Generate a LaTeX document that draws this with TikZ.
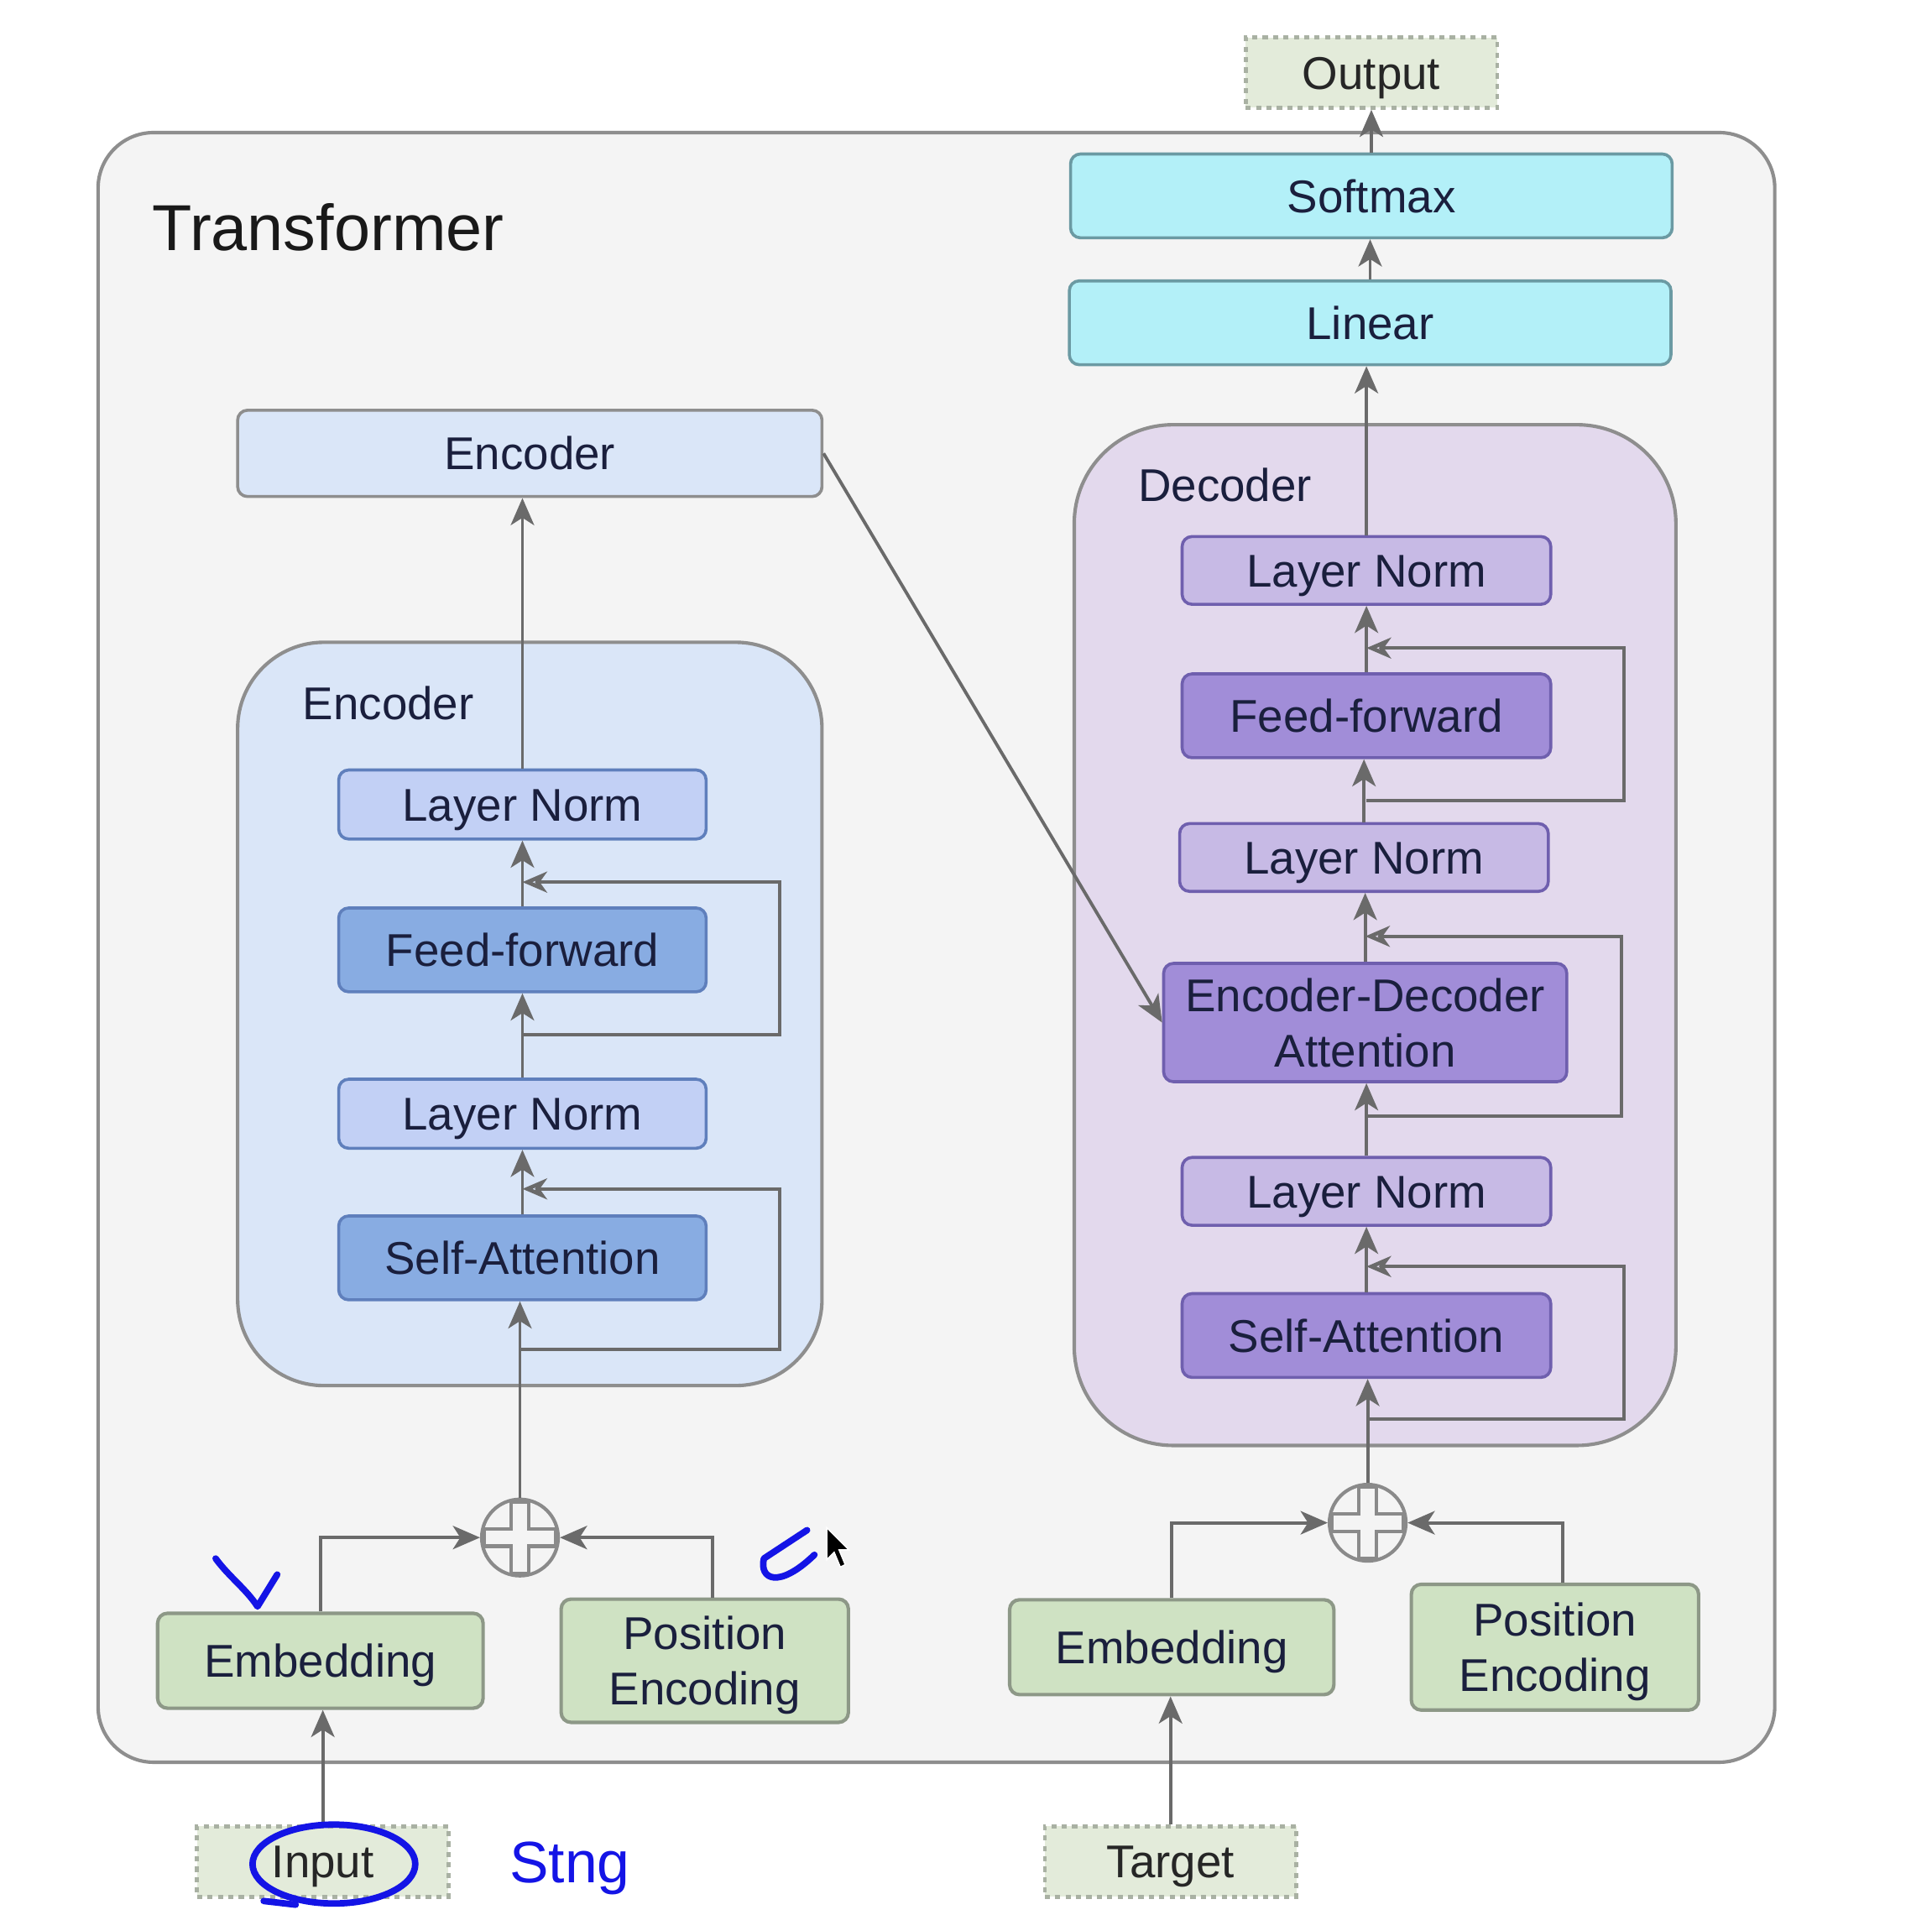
\documentclass[tikz,border=0pt]{standalone}
\usepackage{fontspec}
\setmainfont{Liberation Sans}
\usetikzlibrary{arrows.meta,calc}

\definecolor{frameF}{HTML}{F4F4F4}
\definecolor{frameE}{HTML}{8E8E8E}
\definecolor{encBoxF}{HTML}{DAE6F8}
\definecolor{encLight}{HTML}{C2D0F5}
\definecolor{encDark}{HTML}{88ACE2}
\definecolor{encEdge}{HTML}{5F7FBC}
\definecolor{decBoxF}{HTML}{E3D9ED}
\definecolor{decLight}{HTML}{C7BAE5}
\definecolor{decDark}{HTML}{A18DD8}
\definecolor{decEdge}{HTML}{6F5FAE}
\definecolor{grnF}{HTML}{CFE2C3}
\definecolor{grnE}{HTML}{8D9887}
\definecolor{cyanF}{HTML}{B3F0F8}
\definecolor{cyanE}{HTML}{6B9AA3}
\definecolor{ioF}{HTML}{E3EBDA}
\definecolor{ioE}{HTML}{A9B1A3}
\definecolor{lineC}{HTML}{6A6A6A}
\definecolor{txt}{HTML}{1A1F3D}
\definecolor{plusC}{HTML}{8A8A8A}
\definecolor{inkblue}{HTML}{1414E6}

\newcommand\lblfont{\fontsize{10.6}{12.8}\selectfont}
% outlined plus sign inside an adder circle
\newcommand\drawcrosshere{%
  \draw[plusC, line width=0.8pt] (-7,-29) -- (7,-29) -- (7,-7) -- (29,-7) -- (29,7) -- (7,7)
    -- (7,29) -- (-7,29) -- (-7,7) -- (-29,7) -- (-29,-7) -- (-7,-7) -- cycle;}

\begin{document}
\begin{tikzpicture}[x=0.01cm, y=-0.01cm,
  blk/.style={rounded corners=0.08cm, line width=0.7pt, inner sep=0pt, align=center,
    font=\lblfont, text=txt},
  oneline/.style={text height=7.6pt, text depth=0pt},
  twoline/.style={text depth=0pt},
  encLN/.style={blk, oneline, fill=encLight, draw=encEdge, minimum width=2.98cm, minimum height=0.56cm},
  encOp/.style={blk, oneline, fill=encDark, draw=encEdge, minimum width=2.98cm, minimum height=0.68cm},
  decLN/.style={blk, oneline, fill=decLight, draw=decEdge, minimum width=2.99cm, minimum height=0.55cm},
  decOp/.style={blk, fill=decDark, draw=decEdge, minimum width=2.99cm, minimum height=0.68cm},
  embed/.style={blk, fill=grnF, draw=grnE, line width=0.8pt},
  headbox/.style={blk, oneline, fill=cyanF, draw=cyanE, minimum width=4.88cm, minimum height=0.68cm},
  iobox/.style={inner sep=0pt, oneline, fill=ioF, draw=ioE, dash pattern=on 1.2pt off 1.2pt,
    line width=0.9pt, minimum width=2.04cm, minimum height=0.57cm, font=\lblfont, text=black!85},
  container/.style={line width=0.8pt, draw=frameE, inner sep=0pt},
  adder/.style={circle, draw=plusC, line width=0.8pt, minimum size=0.62cm, inner sep=0pt},
  flow/.style={draw=lineC, line width=0.75pt, -{Stealth[length=0.22cm,width=0.19cm,inset=0.06cm]}},
  resid/.style={draw=lineC, line width=0.75pt, -{Stealth[open,length=0.2cm,width=0.17cm,inset=0.06cm,line width=0.9pt]}},
  ink/.style={draw=inkblue, line width=1.5pt, line cap=round, line join=round}]

\useasboundingbox (0,0) rectangle (1568,1554);
\fill[white] (0,0) rectangle (1568,1554);

% ---- outer frame and sub-block containers ----
\node[container, fill=frameF, rounded corners=0.45cm, minimum width=13.6cm, minimum height=13.22cm]
  (frame) at (760,769) {};
\node[anchor=base west, inner sep=0pt, font=\fontsize{15}{18}\selectfont, text=black!90] (title) at (123,203) {Transformer};

\node[container, fill=encBoxF, rounded corners=0.7cm, minimum width=4.74cm, minimum height=6.03cm]
  (encBox) at (430,823) {};
\node[anchor=base west, inner sep=0pt, font=\lblfont, text=txt] (encLbl) at (245,584) {Encoder};

\node[container, fill=decBoxF, rounded corners=0.8cm, minimum width=4.88cm, minimum height=8.28cm]
  (decBox) at (1116,759) {};
\node[anchor=base west, inner sep=0pt, font=\lblfont, text=txt] (decLbl) at (923,407) {Decoder};

% ---- output head ----
\node[iobox] (out) at (1113,59) {Output};
\node[headbox] (soft) at (1113,159) {Softmax};
\node[headbox] (lin) at (1112,262) {Linear};

% ---- encoder ----
\node[blk, oneline, fill=encBoxF, draw=frameE, minimum width=4.74cm, minimum height=0.70cm] (encTop) at (430,368) {Encoder};
\node[encLN] (eLN1) at (424,653) {Layer Norm};
\node[encOp] (eFF) at (424,771) {Feed-forward};
\node[encLN] (eLN2) at (424,904) {Layer Norm};
\node[encOp] (eSA) at (424,1021) {Self-Attention};
\node[adder] (addE) at (422,1248) {};
\begin{scope}[shift={(addE.center)}]\drawcrosshere\end{scope}
\node[embed, oneline, minimum width=2.64cm, minimum height=0.77cm] (eEmb) at (260,1348) {Embedding};
\node[embed, twoline, minimum width=2.33cm, minimum height=1.00cm] (ePos) at (572,1348) {Position\\Encoding};
\node[iobox] (inp) at (262,1511) {Input};

% ---- decoder ----
\node[decLN] (dLN3) at (1109,463) {Layer Norm};
\node[decOp, oneline] (dFF) at (1109,581) {Feed-forward};
\node[decLN] (dLN2) at (1107,696) {Layer Norm};
\node[decOp, twoline, minimum width=3.27cm, minimum height=0.96cm] (dEDA) at (1108,830) {Encoder-Decoder\\Attention};
\node[decLN] (dLN1) at (1109,967) {Layer Norm};
\node[decOp, oneline] (dSA) at (1109,1084) {Self-Attention};
\node[adder] (addD) at (1110,1236) {};
\begin{scope}[shift={(addD.center)}]\drawcrosshere\end{scope}
\node[embed, oneline, minimum width=2.63cm, minimum height=0.77cm] (dEmb) at (951,1337) {Embedding};
\node[embed, twoline, minimum width=2.33cm, minimum height=1.02cm] (dPos) at (1262,1337) {Position\\Encoding};
\node[iobox] (tgt) at (950,1511) {Target};

% ---- encoder connectors ----
\draw[flow] (inp.north) -- (inp.north |- eEmb.south);
\draw[flow] (eEmb.north) |- (addE.west);
\draw[flow] ([xshift=0.06cm]ePos.north) |- (addE.east);
\draw[flow] (addE.north) -- (addE.north |- eSA.south);
\draw[flow] (eSA.north) -- (eLN2.south);
\draw[flow] (eLN2.north) -- (eFF.south);
\draw[flow] (eFF.north) -- (eLN1.south);
\draw[flow] (eLN1.north) -- (eLN1.north |- encTop.south);
\coordinate (eR1s) at (422,1095);
\coordinate (eR1e) at (424,965);
\coordinate (eR2s) at (424,840);
\coordinate (eR2e) at (424,716);
\draw[resid] (eR1s) -- ++(211,0) |- (eR1e);
\draw[resid] (eR2s) -- ++(209,0) |- (eR2e);

% ---- decoder connectors ----
\draw[flow] (tgt.north) -- (tgt.north |- dEmb.south);
\draw[flow] (dEmb.north) |- (addD.west);
\draw[flow] ([xshift=0.06cm]dPos.north) |- (addD.east);
\draw[flow] (addD.north) -- (addD.north |- dSA.south);
\draw[flow] (dSA.north) -- (dLN1.south);
\draw[flow] (dLN1.north) -- (dLN1.north |- dEDA.south);
\draw[flow] (dEDA.north) -- (dEDA.north |- dLN2.south);
\draw[flow] (dLN2.north) -- (dLN2.north |- dFF.south);
\draw[flow] (dFF.north) -- (dLN3.south);
\draw[flow] (dLN3.north) -- (dLN3.north |- lin.south);
\draw[flow] (lin.north) -- (lin.north |- soft.south);
\draw[flow] (soft.north) -- (out.south);
\coordinate (dR1s) at (1109,1152);
\coordinate (dR1e) at (1109,1028);
\coordinate (dR2s) at (1108,906);
\coordinate (dR2e) at (1108,760);
\coordinate (dR3s) at (1109,650);
\coordinate (dR3e) at (1109,526);
\draw[resid] (dR1s) -- ++(209,0) |- (dR1e);
\draw[resid] (dR2s) -- ++(208,0) |- (dR2e);
\draw[resid] (dR3s) -- ++(209,0) |- (dR3e);

% encoder output feeds the encoder-decoder attention
\draw[flow] (encTop.east) -- (dEDA.west);

% ---- hand-written pen marks ----
\draw[ink] (175,1265) .. controls (186,1280) and (200,1290) .. (209,1304) -- (225,1278);
\draw[ink] (655,1242) -- (620,1265) .. controls (616,1282) and (632,1290) .. (661,1262);
\draw[ink] (271,1513) ellipse [x radius=0.66cm, y radius=0.32cm];
\draw[ink] (214,1543) -- (240,1546);
\node[anchor=base west, inner sep=0pt, font=\fontsize{13.5}{16}\selectfont, text=inkblue] (note) at (413,1528) {Stng};

% ---- mouse pointer ----
\filldraw[fill=black, draw=white, line width=0.3pt]
  (671,1240) -- (671,1266) -- (677,1260) -- (682,1272) -- (686,1270) -- (681,1258) -- (689,1258) -- cycle;

\end{tikzpicture}
\end{document}
